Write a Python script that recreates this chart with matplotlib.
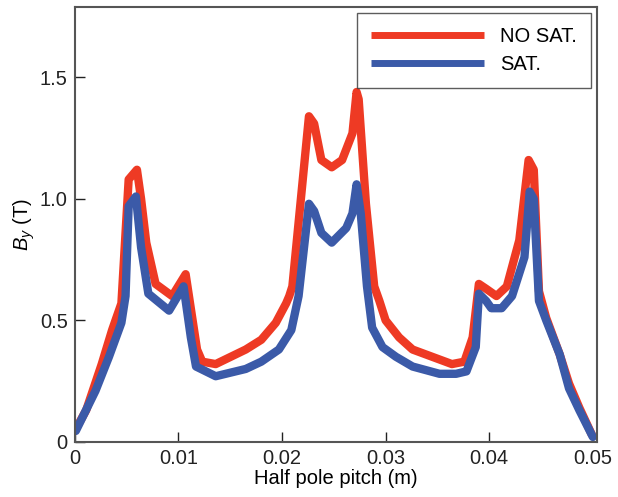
import matplotlib
matplotlib.use("Agg")
import matplotlib.pyplot as plt

plt.rcParams['font.family'] = ['Liberation Sans', 'DejaVu Sans']
plt.rcParams['mathtext.fontset'] = 'custom'
plt.rcParams['mathtext.it'] = 'Liberation Sans:italic'
plt.rcParams['mathtext.rm'] = 'Liberation Sans'

x_nosat = [0.0000, 0.0011, 0.0026, 0.0036, 0.0045, 0.0052, 0.0060, 0.0064, 0.0069, 0.0078,
           0.0094, 0.0107, 0.0118, 0.0123, 0.0136, 0.0165, 0.0180, 0.0194, 0.0204, 0.0207,
           0.0210, 0.0226, 0.0231, 0.0238, 0.0248, 0.0258, 0.0268, 0.0272, 0.0274, 0.0281,
           0.0289, 0.0294, 0.0300, 0.0313, 0.0326, 0.0345, 0.0364, 0.0376, 0.0384, 0.0390,
           0.0397, 0.0407, 0.0417, 0.0429, 0.0438, 0.0443, 0.0448, 0.0455, 0.0468, 0.0477,
           0.0487, 0.0499]
y_nosat = [0.045, 0.13, 0.32, 0.46, 0.57, 1.08, 1.12, 1.00, 0.82, 0.65,
           0.60, 0.69, 0.38, 0.33, 0.32, 0.38, 0.42, 0.49, 0.57, 0.60,
           0.64, 1.34, 1.31, 1.16, 1.13, 1.16, 1.27, 1.44, 1.41, 0.98,
           0.64, 0.58, 0.50, 0.43, 0.38, 0.35, 0.32, 0.33, 0.43, 0.65,
           0.63, 0.60, 0.64, 0.83, 1.16, 1.12, 0.62, 0.51, 0.36, 0.24,
           0.14, 0.03]

x_sat = [0.0001, 0.0020, 0.0033, 0.0045, 0.0049, 0.0052, 0.0059, 0.0064, 0.0071, 0.0091,
         0.0105, 0.0112, 0.0117, 0.0136, 0.0165, 0.0180, 0.0197, 0.0209, 0.0216,
         0.0226, 0.0231, 0.0238, 0.0248, 0.0262, 0.0268, 0.0272, 0.0276, 0.0282, 0.0287,
         0.0297, 0.0310, 0.0326, 0.0352, 0.0368, 0.0378, 0.0387, 0.0390, 0.0397, 0.0402,
         0.0412, 0.0422, 0.0434, 0.0439, 0.0443, 0.0448, 0.0455, 0.0468, 0.0477, 0.0487,
         0.0500]
y_sat = [0.045, 0.21, 0.35, 0.49, 0.60, 0.97, 1.01, 0.80, 0.61, 0.54,
         0.64, 0.43, 0.31, 0.27, 0.30, 0.33, 0.38, 0.46, 0.60,
         0.98, 0.95, 0.86, 0.82, 0.88, 0.94, 1.06, 0.94, 0.64, 0.47,
         0.39, 0.35, 0.31, 0.28, 0.28, 0.29, 0.39, 0.61, 0.58, 0.55,
         0.55, 0.60, 0.76, 1.03, 1.00, 0.58, 0.50, 0.36, 0.22, 0.13,
         0.02]

xticks = [0, 0.01, 0.02, 0.03, 0.04, 0.05]
xticklabels = ['0', '0.01', '0.02', '0.03', '0.04', '0.05']
yticks = [0, 0.5, 1.0, 1.5]
yticklabels = ['0', '0.5', '1.0', '1.5']

red = '#EE3A24'
blue = '#3B5AA8'
fs = 14.5

fig = plt.figure(figsize=(6.18, 4.97), dpi=100)
ax = fig.add_axes([0.121, 0.111, 0.845, 0.875])

ax.plot(x_nosat, y_nosat, color=red, lw=6, solid_joinstyle='round', solid_capstyle='round', label='NO SAT.')
ax.plot(x_sat, y_sat, color=blue, lw=6, solid_joinstyle='round', solid_capstyle='round', label='SAT.')

ax.set_xlim(0, 0.0504)
ax.set_ylim(0, 1.79)
ax.set_xticks(xticks)
ax.set_xticklabels(xticklabels)
ax.set_yticks(yticks)
ax.set_yticklabels(yticklabels)
ax.tick_params(direction='in', length=7, width=1, labelsize=fs, colors='#222222', pad=5)
for s in ax.spines.values():
    s.set_color('#555555')
    s.set_linewidth(1.5)

ax.set_xlabel('Half pole pitch (m)', fontsize=fs, labelpad=1)
ax.set_ylabel('$B_y$ (T)', fontsize=fs, labelpad=2)

leg = ax.legend(loc='upper right', fontsize=fs, fancybox=False, frameon=True,
                edgecolor='#333333', handlelength=5.6, handletextpad=0.8,
                borderaxespad=0.3, borderpad=0.7, labelspacing=0.45)
leg.get_frame().set_linewidth(1.0)
for line in leg.get_lines():
    line.set_linewidth(5)
    line.set_solid_capstyle('butt')

fig.savefig('out.png', dpi=100)
